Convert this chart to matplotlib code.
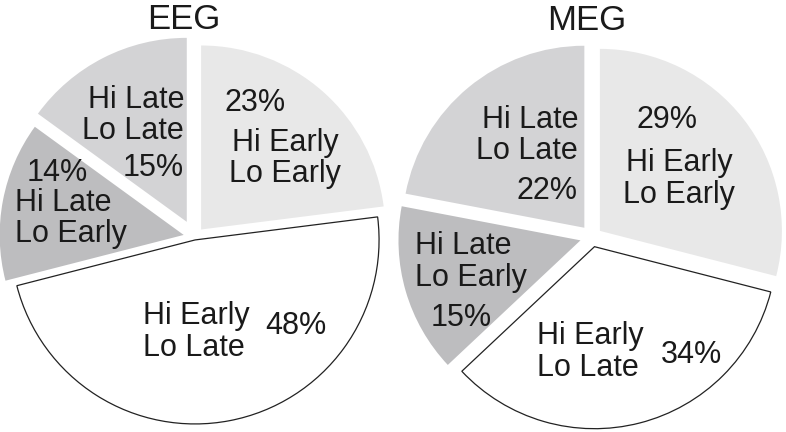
import matplotlib
matplotlib.use("Agg")
import matplotlib.pyplot as plt

plt.rcParams['font.family'] = ['Liberation Sans', 'DejaVu Sans']

W, H = 786, 432

# ---- data ----
categories = ["Hi Early\nLo Early", "Hi Early\nLo Late", "Hi Late\nLo Early", "Hi Late\nLo Late"]
eeg_values = [23, 48, 14, 15]
meg_values = [29, 34, 15, 22]
titles = ["EEG", "MEG"]
colors = ["#e8e8e8", "#ffffff", "#bdbdbf", "#d3d3d5"]

fig = plt.figure(figsize=(7.86, 4.32), dpi=100)
ax = fig.add_axes([0, 0, 1, 1])

FS = 22
CAP = 11  # half cap height in px


def Y(y):
    return H - y


def draw_pie(values, center, radius, explode_px):
    # explode offsets are in data units (pixels here)
    wedges, _ = ax.pie(values, center=(center[0], Y(center[1])), radius=radius,
                       startangle=90, counterclock=False, colors=colors,
                       explode=explode_px,
                       wedgeprops=dict(linewidth=0, edgecolor='none'))
    # the white slice is outlined
    wedges[1].set_edgecolor('#222222')
    wedges[1].set_linewidth(0.9)
    return wedges


def label(lines, x, ys, ha):
    for line, y in zip(lines, ys):
        ax.text(x, Y(y + CAP), line, ha=ha, va='baseline', fontsize=FS, color='#1a1a1a')


def pct(v):
    return f"{v}%"


# ---- EEG ----
draw_pie(eeg_values, (194.5, 237), 184, [10, 3, 11, 17])
ax.text(184, Y(29), titles[0], ha='center', va='baseline', fontsize=25, color='#1a1a1a')
label([pct(eeg_values[0])], 255, [100], 'center')
label(categories[0].split("\n"), 285, [140, 171], 'center')
label(categories[3].split("\n") + [pct(eeg_values[3])], 184, [97, 128, 165], 'right')
label([pct(eeg_values[2])], 27, [170], 'left')
label(categories[2].split("\n"), 15, [200, 231], 'left')
label(categories[1].split("\n"), 143, [313, 345], 'left')
label([pct(eeg_values[1])], 296, [323], 'center')

# ---- MEG ----
draw_pie(meg_values, (592, 237), 182, [10, 10, 12, 12])
ax.text(587, Y(30), titles[1], ha='center', va='baseline', fontsize=25, color='#1a1a1a')
label([pct(meg_values[0])], 667, [117], 'center')
label(categories[0].split("\n"), 679, [160, 192], 'center')
label(categories[3].split("\n") + [pct(meg_values[3])], 578, [117, 148, 188], 'right')
label(categories[2].split("\n"), 415, [243, 275], 'left')
label([pct(meg_values[2])], 461, [315], 'center')
label(categories[1].split("\n"), 537, [333, 365], 'left')
label([pct(meg_values[1])], 691, [352], 'center')

ax.set_xlim(0, W)
ax.set_ylim(0, H)
ax.set_aspect('equal')
ax.axis('off')

fig.savefig("out.png", dpi=100, facecolor='white')
